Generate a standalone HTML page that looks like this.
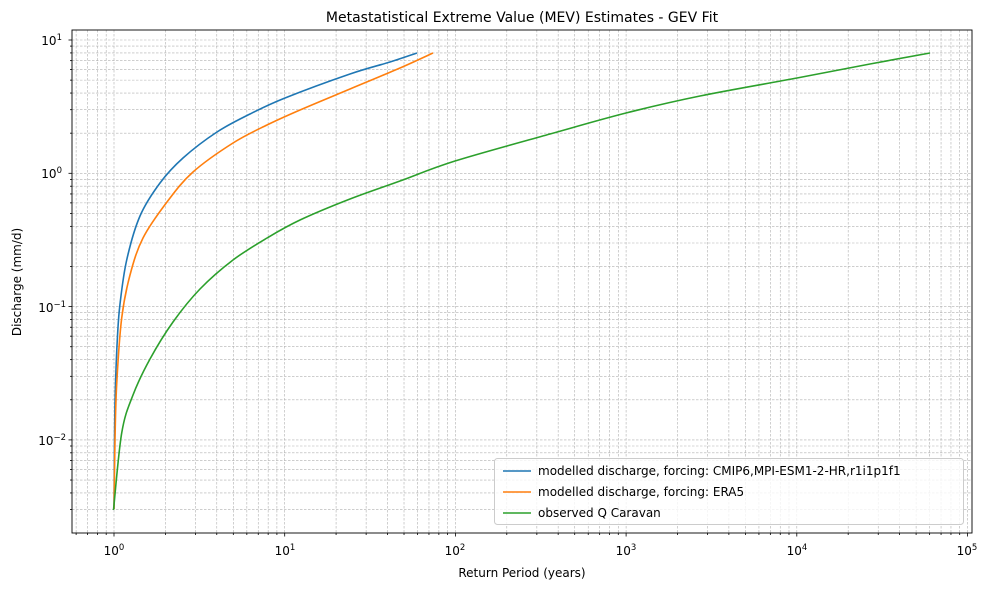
<!DOCTYPE html>
<html><head><meta charset="utf-8"><style>body{margin:0;background:#fff}svg{display:block}text{font-family:"DejaVu Sans","Liberation Sans",sans-serif;fill:#000}</style></head>
<body>
<svg id="sv" width="989" height="590" viewBox="0 0 989 590" xmlns="http://www.w3.org/2000/svg">
<g id="grid" stroke="#b0b0b0" stroke-width="0.6" stroke-dasharray="2.5,1.5" fill="none"></g>
<g id="ticks" stroke="#000" stroke-width="0.8"></g>
<path id="c1" fill="none" stroke="#1f77b4" stroke-width="1.6"/>
<path id="c2" fill="none" stroke="#ff7f0e" stroke-width="1.6"/>
<path id="c3" fill="none" stroke="#2ca02c" stroke-width="1.6"/>
<rect x="72" y="30" width="900" height="503" fill="none" stroke="#000" stroke-width="0.9"/>
<g font-size="12" text-anchor="middle">
<text x="114" y="555">10<tspan dy="-5" font-size="8.5">0</tspan></text>
<text x="285" y="555">10<tspan dy="-5" font-size="8.5">1</tspan></text>
<text x="455" y="555">10<tspan dy="-5" font-size="8.5">2</tspan></text>
<text x="626" y="555">10<tspan dy="-5" font-size="8.5">3</tspan></text>
<text x="797" y="555">10<tspan dy="-5" font-size="8.5">4</tspan></text>
<text x="967" y="555">10<tspan dy="-5" font-size="8.5">5</tspan></text>
</g>
<g font-size="12" text-anchor="end">
<text x="62" y="45">10<tspan dy="-5" font-size="8.5">1</tspan></text>
<text x="62" y="178">10<tspan dy="-5" font-size="8.5">0</tspan></text>
<text x="66" y="312">10<tspan dy="-5" font-size="8.5">−1</tspan></text>
<text x="66" y="445">10<tspan dy="-5" font-size="8.5">−2</tspan></text>
</g>
<text x="522" y="577" font-size="12" text-anchor="middle">Return Period (years)</text>
<text transform="translate(21,282) rotate(-90)" font-size="12" text-anchor="middle">Discharge (mm/d)</text>
<text x="522" y="22" font-size="14" text-anchor="middle">Metastatistical Extreme Value (MEV) Estimates - GEV Fit</text>
<rect x="494.5" y="458.5" width="469" height="66" rx="3" fill="#fff" fill-opacity="0.8" stroke="#ccc"/>
<g font-size="12">
<line x1="503" y1="471" x2="531" y2="471" stroke="#1f77b4" stroke-width="1.6"/>
<text x="538" y="475">modelled discharge, forcing: CMIP6,MPI-ESM1-2-HR,r1i1p1f1</text>
<line x1="503" y1="492" x2="531" y2="492" stroke="#ff7f0e" stroke-width="1.6"/>
<text x="538" y="496">modelled discharge, forcing: ERA5</text>
<line x1="503" y1="513" x2="531" y2="513" stroke="#2ca02c" stroke-width="1.6"/>
<text x="538" y="517">observed Q Caravan</text>
</g>
</svg>
<script>
(function(){
var NS='http://www.w3.org/2000/svg';
function ln(p,x1,y1,x2,y2){var e=document.createElementNS(NS,'line');e.setAttribute('x1',x1);e.setAttribute('y1',y1);e.setAttribute('x2',x2);e.setAttribute('y2',y2);p.appendChild(e);}
var g=document.getElementById('grid'),tk=document.getElementById('ticks');
var x0=114,dx=170.7,y0=40,dy=133.3,L=72,R=972,T=30,B=533;
for(var d=-1;d<6;d++)for(var m=1;m<10;m++){var x=x0+(d+Math.log10(m))*dx;if(x>=L&&x<=R){if(x>L&&x<R)ln(g,x,T,x,B);ln(tk,x,B,x,B+(m==1?3.5:2));}}
for(var d=-3;d<2;d++)for(var m=1;m<10;m++){var y=y0+(1-d-Math.log10(m))*dy;if(y>=T&&y<=B){if(y>T&&y<B)ln(g,L,y,R,y);ln(tk,L,y,L-(m==1?3.5:2),y);}}
function cr(pts){var s='M'+pts[0][0]+','+pts[0][1];for(var i=0;i<pts.length-1;i++){var p0=pts[i-1]||pts[i],p1=pts[i],p2=pts[i+1],p3=pts[i+2]||p2;
s+=' C'+(p1[0]+(p2[0]-p0[0])/6)+','+(p1[1]+(p2[1]-p0[1])/6)+' '+(p2[0]-(p3[0]-p1[0])/6)+','+(p2[1]-(p3[1]-p1[1])/6)+' '+p2[0]+','+p2[1];}return s;}
var c1=[[114,509],[114.6,430],[115.5,384],[117.5,336],[120,304],[126.7,260],[140,216],[160,183],[183,158],[217,132],[250,114],[285,98],[350,74],[390,62],[417,53]];
var c2=[[114,509],[115,440],[116.7,384],[121.7,318],[130,275],[143,238],[167,202],[193,172],[233,143],[267,125],[300,110],[350,89],[400,68],[433,53]];
var c3=[[113.5,510],[121.7,433],[133,395],[150,359],[173,322],[200,289],[233,260],[267,238],[300,220],[350,199],[400,181],[455,161],[550,134],[626,113],[700,96],[797,78],[870,64],[930,53]];
document.getElementById('c1').setAttribute('d',cr(c1));
document.getElementById('c2').setAttribute('d',cr(c2));
document.getElementById('c3').setAttribute('d',cr(c3));
})();
</script>
</body></html>
